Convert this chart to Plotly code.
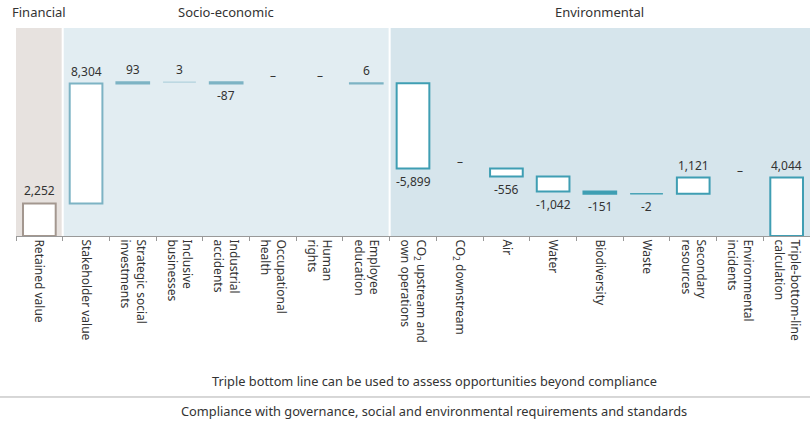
import plotly.graph_objects as go
import numpy as np

categories = [
    "Retained value", "Stakeholder value", "Strategic social<br>investments",
    "Inclusive<br>businesses", "Industrial<br>accidents", "Occupational<br>health",
    "Human<br>rights", "Employee<br>education",
    "CO<sub>2</sub> upstream and<br>own operations", "CO<sub>2</sub> downstream",
    "Air", "Water", "Biodiversity", "Waste", "Secondary<br>resources",
    "Environmental<br>incidents", "Triple-bottom-line<br>calculation",
]
values = [2252, 8304, 93, 3, -87, 0, 0, 6, -5899, 0, -556, -1042, -151, -2, 1121, 0, 4044]
groups = ["Financial"] + ["Socio-economic"] * 7 + ["Environmental"] * 9
group_names = ["Financial", "Socio-economic", "Environmental"]
is_total = [False] * 16 + [True]

group_line = {"Financial": "#a3978f", "Socio-economic": "#7db3c4", "Environmental": "#3f9eb3"}
group_band = {"Financial": "#e7e2df", "Socio-economic": "#e2edf2", "Environmental": "#d6e5ec"}

# waterfall bases
bases = []
running = 0
for v, t in zip(values, is_total):
    if t:
        bases.append(0)
    else:
        bases.append(running)
        running += v

line_colors = [group_line[g] for g in groups]
line_colors[3] = "#b8d6e0"
line_widths = [0 if v == 0 else (1 if abs(v) < 5 else 2) for v in values]
fill_colors = [line_colors[i] if 0 < abs(v) < 200 else "white" for i, v in enumerate(values)]

fig = go.Figure()
fig.add_trace(go.Bar(
    x=categories, y=values, base=bases, width=0.7,
    marker=dict(color=fill_colors, line=dict(color=line_colors, width=line_widths)),
    hoverinfo="skip",
))

font_col = "#333333"
ann = []
for i, (c, v, b) in enumerate(zip(categories, values, bases)):
    if v > 0:
        ann.append(dict(x=c, y=b + v, text=f"{v:,}", yanchor="bottom", yshift=2))
    elif v < 0:
        ann.append(dict(x=c, y=b + v, text=f"{v:,}", yanchor="top", yshift=-2))
    else:
        ann.append(dict(x=c, y=b, text="–", yanchor="bottom", yshift=-3))
for a in ann:
    a.update(xref="x", yref="y", showarrow=False, font=dict(size=12, color=font_col, family="Noto Sans"))

# bands and headers
shapes = []
n = len(categories)
gap = 0.022
for gname in group_names:
    idx = [i for i, g in enumerate(groups) if g == gname]
    x0 = idx[0] - 0.5 + (gap if idx[0] > 0 else 0)
    x1 = idx[-1] + 0.5 - (gap if idx[-1] < n - 1 else 0)
    shapes.append(dict(type="rect", xref="x", yref="paper", x0=x0, x1=x1, y0=0, y1=1,
                       fillcolor=group_band[gname], line=dict(width=0), layer="below"))
    ann.append(dict(x=(idx[0] + idx[-1]) / 2, y=1.077, xref="x", yref="paper", text=gname,
                    showarrow=False, yanchor="middle",
                    font=dict(size=13, color=font_col, family="Noto Sans")))

ann.append(dict(x=0.527, y=-0.697, xref="paper", yref="paper", showarrow=False, yanchor="middle",
                text="Triple bottom line can be used to assess opportunities beyond compliance",
                font=dict(size=12.8, color=font_col, family="Noto Sans")))
ann.append(dict(x=0.527, y=-0.841, xref="paper", yref="paper", showarrow=False, yanchor="middle",
                text="Compliance with governance, social and environmental requirements and standards",
                font=dict(size=12.8, color=font_col, family="Noto Sans")))
shapes.append(dict(type="line", xref="paper", yref="paper", x0=-16 / 794, x1=1.0, y0=-0.774, y1=-0.774,
                   line=dict(color="#b0b0b0", width=1)))

fig.update_layout(
    width=810, height=421,
    margin=dict(l=16, r=0, t=28, b=185),
    paper_bgcolor="white", plot_bgcolor="white",
    showlegend=False,
    shapes=shapes, annotations=ann,
    font=dict(family="Noto Sans", color=font_col, size=12),
    xaxis=dict(range=[-0.5, n - 0.5], tickangle=90, ticks="outside", tickson="boundaries",
               ticklen=4, tickcolor="#999999", showline=True, linecolor="#999999", linewidth=1,
               showgrid=False, tickfont=dict(size=12, color=font_col, family="Noto Sans"),
               fixedrange=True),
    yaxis=dict(range=[0, 14400], visible=False, showgrid=False, zeroline=False, fixedrange=True),
)

fig.write_html("out.html", config={"displayModeBar": False})
